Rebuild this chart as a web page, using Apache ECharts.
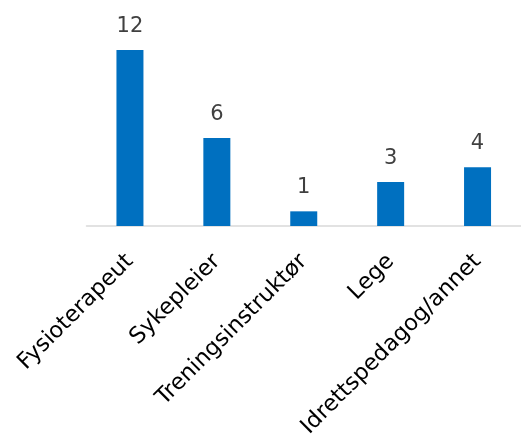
<!DOCTYPE html>
<html><head><meta charset="utf-8">
<style>html,body{margin:0;padding:0;background:#fff}#c{width:521px;height:441px}</style>
<script src="https://cdn.jsdelivr.net/npm/echarts@6/dist/echarts.min.js"></script>
</head><body><div id="c"></div>
<script>
const categories = ["Fysioterapeut", "Sykepleier", "Treningsinstruktør", "Lege", "Idrettspedagog/annet"];
const values = [12, 6, 1, 3, 4];

const chart = echarts.init(document.getElementById('c'), null, {renderer: 'canvas'});
chart.setOption({
  animation: false,
  grid: {left: 86.5, right: -2, top: 20.7, bottom: 215},
  xAxis: {
    type: 'category', data: categories,
    axisLine: {lineStyle: {color: '#d9d9d9', width: 1.5}},
    axisTick: {show: false},
    axisLabel: {rotate: 45, interval: 0, margin: 32, fontSize: 22.5, color: '#000', fontFamily: 'DejaVu Sans'}
  },
  yAxis: {type: 'value', min: 0, max: 14, show: false, splitLine: {show: false}},
  series: [{
    type: 'bar', data: values, barWidth: 27,
    itemStyle: {color: '#0070C0'},
    label: {show: true, position: 'top', distance: 13, fontSize: 21, color: '#404040', fontFamily: 'DejaVu Sans'}
  }]
});
</script></body></html>
